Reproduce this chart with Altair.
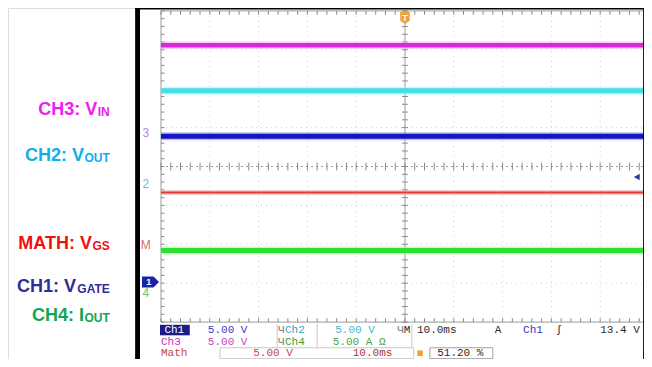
import altair as alt
import pandas as pd
import numpy as np

W, H = 636, 351
XDOM = [-8.135, 4.898]   # horizontal divisions (10 ms/div)
YDOM = [-4.949, 4.075]   # vertical divisions

# ---- traces (level in divisions) ----
trace_names = ["CH3", "CH2", "CH1", "MATH", "CH4"]
trace_levels = [3.12, 1.95, 0.78, -0.67, -2.16]
trace_colors = ["#d82ad8", "#45dfec", "#1515c2", "#e23b3b", "#2fdf2f"]
trace_halo = ["#f2a6f2", "#b0f2f8", "#8c8ce6", "#f4a8a8", "#a8f2a8"]
trace_widths = [4.5, 5.0, 5.0, 2.0, 5.0]

# ---- left labels ----
label_main = ["CH3: V", "CH2: V", "MATH: V", "CH1: V", "CH4: I"]
label_sub = ["IN", "OUT", "GS", "GATE", "OUT"]
label_colors = ["#ee1cee", "#12aeea", "#f01010", "#2e2e96", "#12a650"]
label_level = [1.32, 0.15, -2.13, -3.23, -3.96]

# ---- channel markers on the left of the graticule ----
marker_text = ["3", "2", "M", "4"]
marker_level = [0.86, -0.45, -2.02, -3.25]
marker_colors = ["#b48ad8", "#6cc4cc", "#d86a6a", "#6cc46c"]

# ---- status readout ----
status_text = ["Ch1", "5.00 V", "Ч", "Ch2", "5.00 V", "Ч", "M 10.0ms", "A", "Ch1", "ʃ", "13.4 V",
               "Ch3", "5.00 V", "Ч", "Ch4", "5.00 A Ω",
               "Math", "5.00 V", "10.0ms", "51.20 %"]
status_x = [-4.93, -4.04, -2.60, -2.46, -1.43, -0.16, -0.025, 1.84, 2.42, 3.09, 4.0,
            -5.0, -4.04, -2.60, -2.46, -1.48,
            -5.0, -3.11, -1.07, 0.66]
status_row = [1] * 11 + [2] * 5 + [3] * 4
status_colors = ["#ffffff", "#3a3ac4", "#7a7a7a", "#35a5c5", "#45b5cf", "#7a7a7a", "#2a2a2a", "#2a2a2a",
                 "#3535c0", "#2a2a2a", "#2a2a2a",
                 "#c435c4", "#c445c4", "#7a7a7a", "#38a238", "#45a845",
                 "#c84545", "#c84545", "#a83535", "#2a2a2a"]
row_level = {1: -4.2, 2: -4.5, 3: -4.8}

SUBW = {"I": 0.278, "N": 0.722, "O": 0.778, "U": 0.722, "T": 0.611, "G": 0.778,
        "A": 0.722, "E": 0.667, "S": 0.667}


def X(f):
    return alt.X(f, type="quantitative", scale=alt.Scale(domain=XDOM, nice=False, zero=False), axis=None)


def Y(f):
    return alt.Y(f, type="quantitative", scale=alt.Scale(domain=YDOM, nice=False, zero=False), axis=None)


layers = []

# graticule dotted grid
gv = pd.DataFrame({"x": [d for d in range(-4, 5) if d != 0], "y0": -4.0, "y1": 4.0})
gh = pd.DataFrame({"y": [v for v in range(-3, 4) if v != 0], "x0": -5.0, "x1": 5.0})
layers.append(alt.Chart(gv).mark_rule(color="#cfcfcf", strokeWidth=1, strokeDash=[1, 4]).encode(
    x=X("x"), y=Y("y0"), y2=alt.Y2("y1")))
layers.append(alt.Chart(gh).mark_rule(color="#cfcfcf", strokeWidth=1, strokeDash=[1, 4]).encode(
    y=Y("y"), x=X("x0"), x2=alt.X2("x1")))

# frame and centre lines
fv = pd.DataFrame({"x": [-5.0, 0.0], "y0": -4.0, "y1": 4.0})
fh = pd.DataFrame({"y": [4.0, -4.0], "x0": -5.0, "x1": 5.0})
layers.append(alt.Chart(fv).mark_rule(color="#9a9a9a", strokeWidth=1).encode(
    x=X("x"), y=Y("y0"), y2=alt.Y2("y1")))
layers.append(alt.Chart(fh).mark_rule(color="#9a9a9a", strokeWidth=1).encode(
    y=Y("y"), x=X("x0"), x2=alt.X2("x1")))
layers.append(alt.Chart(pd.DataFrame({"y": [0.0], "x0": [-5.0], "x1": [5.0]})).mark_rule(
    color="#9a9a9a", strokeWidth=1, strokeDash=[2, 3]).encode(y=Y("y"), x=X("x0"), x2=alt.X2("x1")))

# minor ticks
vt = np.round(np.arange(-4.0, 4.001, 0.2), 2)
ht = np.round(np.arange(-5.0, 5.001, 0.2), 2)
ticks_cv = pd.DataFrame({"y": vt, "x0": -0.06, "x1": 0.06})
ticks_left = pd.DataFrame({"y": vt, "x0": -5.0, "x1": -4.93})
ticks_ch = pd.DataFrame({"x": ht, "y0": -0.1, "y1": 0.1})
ticks_top = pd.DataFrame({"x": ht, "y0": 3.9, "y1": 4.0})
ticks_bot = pd.DataFrame({"x": ht, "y0": -4.0, "y1": -3.9})
for df in (ticks_cv, ticks_left):
    layers.append(alt.Chart(df).mark_rule(color="#8a8a8a", strokeWidth=1).encode(
        y=Y("y"), x=X("x0"), x2=alt.X2("x1")))
for df in (ticks_ch, ticks_top, ticks_bot):
    layers.append(alt.Chart(df).mark_rule(color="#8a8a8a", strokeWidth=1).encode(
        x=X("x"), y=Y("y0"), y2=alt.Y2("y1")))

# traces
tdf = pd.DataFrame({"name": trace_names, "level": trace_levels, "color": trace_colors,
                    "halo": trace_halo, "w": trace_widths, "x0": -5.0, "x1": 5.0})
tdf["hw"] = tdf["w"] + 3
layers.append(alt.Chart(tdf).mark_rule(opacity=0.6).encode(
    x=X("x0"), x2=alt.X2("x1"), y=Y("level"),
    color=alt.Color("halo:N", scale=None), strokeWidth=alt.StrokeWidth("hw:Q", scale=None)))
layers.append(alt.Chart(tdf).mark_rule().encode(
    x=X("x0"), x2=alt.X2("x1"), y=Y("level"),
    color=alt.Color("color:N", scale=None), strokeWidth=alt.StrokeWidth("w:Q", scale=None)))

# trigger position marker (top) and trigger level marker (right)
layers.append(alt.Chart(pd.DataFrame({"x": [0.0], "y": [3.82]})).mark_point(
    shape="M-1,-1.3L1,-1.3L1,0.6L0,1.3L-1,0.6Z", filled=True, fill="#f2a23a", opacity=1, size=90).encode(
    x=X("x"), y=Y("y")))
layers.append(alt.Chart(pd.DataFrame({"x": [0.0], "y": [3.82], "t": ["T"]})).mark_text(
    font="Liberation Sans", fontSize=9, fontWeight="bold", color="#ffffff").encode(
    x=X("x"), y=Y("y"), text="t:N"))
layers.append(alt.Chart(pd.DataFrame({"x": [4.75], "y": [-0.27]})).mark_point(
    shape="triangle-left", filled=True, fill="#2a3a9a", opacity=1, size=45).encode(x=X("x"), y=Y("y")))

# channel markers
mdf = pd.DataFrame({"t": marker_text, "y": marker_level, "c": marker_colors, "x": -5.31})
layers.append(alt.Chart(mdf).mark_text(font="Liberation Sans", fontSize=12).encode(
    x=X("x"), y=Y("y"), text="t:N", color=alt.Color("c:N", scale=None)))
layers.append(alt.Chart(pd.DataFrame({"x": [-5.215], "y": [-2.97]})).mark_point(
    shape="M-1,-0.65L0.35,-0.65L1,0L0.35,0.65L-1,0.65Z", filled=True, fill="#1a22a6", opacity=1,
    size=290).encode(x=X("x"), y=Y("y")))
layers.append(alt.Chart(pd.DataFrame({"x": [-5.25], "y": [-2.97], "t": ["1"]})).mark_text(
    font="Liberation Sans", fontSize=9, fontWeight="bold", color="#ffffff").encode(
    x=X("x"), y=Y("y"), text="t:N"))

# black bezel of the screen
bez = pd.DataFrame({"x0": [-5.53, -5.53, 4.88], "x1": [-5.43, 5.3, 5.3],
                    "y0": [-5.2, 4.036, -5.2], "y1": [4.3, 4.3, 4.3]})
layers.append(alt.Chart(bez).mark_rect(color="#000000").encode(
    x=X("x0"), x2=alt.X2("x1"), y=Y("y0"), y2=alt.Y2("y1")))

# status area boxes
layers.append(alt.Chart(pd.DataFrame({"x0": [-5.02], "x1": [-4.41], "y0": [-4.07], "y1": [-4.34]})).mark_rect(
    color="#1c1c86").encode(x=X("x0"), x2=alt.X2("x1"), y=Y("y0"), y2=alt.Y2("y1")))
sep = pd.DataFrame({"x": [-2.62, -1.80, 0.14], "y0": -4.06, "y1": -4.64})
layers.append(alt.Chart(sep).mark_rule(color="#c8c8c8", strokeWidth=1).encode(
    x=X("x"), y=Y("y0"), y2=alt.Y2("y1")))
boxes = pd.DataFrame({"x0": [-3.79, 0.51], "x1": [0.18, 1.80], "y0": [-4.66, -4.66], "y1": [-4.94, -4.94],
                      "c": ["#c8c8c8", "#a0a0a0"]})
layers.append(alt.Chart(boxes).mark_rect(fill="#ffffff", fillOpacity=0, strokeWidth=1).encode(
    x=X("x0"), x2=alt.X2("x1"), y=Y("y0"), y2=alt.Y2("y1"), stroke=alt.Stroke("c:N", scale=None)))
layers.append(alt.Chart(pd.DataFrame({"x": [0.31], "y": [-4.8]})).mark_square(
    color="#f0a030", size=30, opacity=1).encode(x=X("x"), y=Y("y")))

# status text
sdf = pd.DataFrame({"t": status_text, "x": status_x, "row": status_row, "c": status_colors})
sdf["y"] = sdf["row"].map(row_level)
layers.append(alt.Chart(sdf).mark_text(font="Liberation Mono", fontSize=11, align="left").encode(
    x=X("x"), y=Y("y"), text="t:N", color=alt.Color("c:N", scale=None)))

# left labels with subscripts
LX = -6.05
ldf = pd.DataFrame({"main": label_main, "sub": label_sub, "c": label_colors, "y": label_level})
ldf["xs"] = LX
ldf["xm"] = [LX - (sum(SUBW[ch] for ch in s) * 12 + 0.5) / 48.8 for s in label_sub]
layers.append(alt.Chart(ldf).mark_text(font="Liberation Sans", fontWeight="bold", fontSize=18,
                                       align="right", baseline="alphabetic").encode(
    x=X("xm"), y=Y("y"), text="main:N", color=alt.Color("c:N", scale=None)))
layers.append(alt.Chart(ldf).mark_text(font="Liberation Sans", fontWeight="bold", fontSize=12,
                                       align="right", baseline="alphabetic", dy=1).encode(
    x=X("xs"), y=Y("y"), text="sub:N", color=alt.Color("c:N", scale=None)))

chart = alt.layer(*layers).properties(
    width=W, height=H, autosize=alt.AutoSizeParams(type="none"), padding=0
).configure_view(stroke=None).configure(background="#ffffff")

chart.save("out.html", embed_options={"renderer": "svg", "actions": False})
